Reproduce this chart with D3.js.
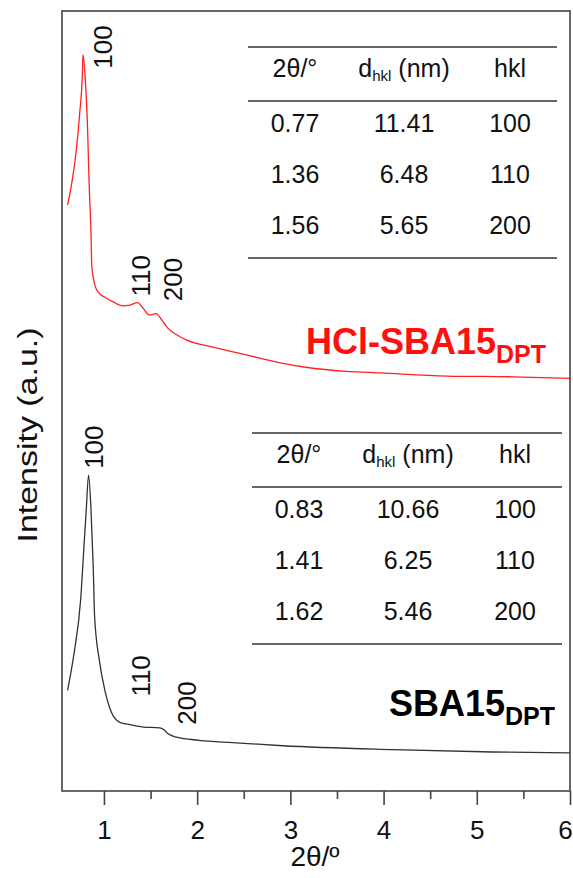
<!DOCTYPE html>
<html>
<head>
<meta charset="utf-8">
<script src="https://cdn.jsdelivr.net/npm/d3@7"></script>
<style>
  body { margin: 0; background: white; }
  text { font-family: "Liberation Sans", Arial, sans-serif; }
</style>
</head>
<body>
<div id="container"></div>
<script>
let w = 573;
let h = 878;

// HCl-SBA15 (red) pattern
let redX = [0.61,0.665,0.70,0.74,0.77,0.775,0.80,0.825,0.84,0.86,0.87,0.91,0.95,1.01,1.10,1.20,1.28,1.36,1.42,1.49,1.56,1.62,1.68,1.78,1.89,2.17,2.53,2.89,3.24,3.60,3.96,4.68,5.39,6.0];
let redY = [751,787,818,869,924,944,912,847,783,719,672,646,638,633,627,622,623,626,619,610,612,604,594,585,578,569,559,549,542,538,536,532,531,529];

// SBA15 (black) pattern
let blackX = [0.61,0.68,0.75,0.79,0.81,0.835,0.86,0.885,0.90,0.95,1.01,1.08,1.17,1.28,1.42,1.60,1.65,1.68,1.78,2.02,2.38,2.92,4.10,5.17,6.0];
let blackY = [129,177,245,322,360,405,364,287,223,168,129,101,88,85,82,81,78,74,69,65,62,58,53,50,49];

let xTicks = [1,2,3,4,5,6];
let xMinor = [1.5,2.5,3.5,4.5,5.5];

// peak labels: [text, x, y] in data units
let redPeaks = [["100",1.09,926],["110",1.49,634],["200",1.84,628]];
let blackPeaks = [["100",0.99,413],["110",1.49,121],["200",1.99,85]];

// tables
let tableHead = ["2θ/°","d","hkl"];
let redRows = [["0.77","11.41","100"],["1.36","6.48","110"],["1.56","5.65","200"]];
let blackRows = [["0.83","10.66","100"],["1.41","6.25","110"],["1.62","5.46","200"]];

let x = d3.scaleLinear().domain([0.55, 6]).range([62, 570]);
let y = d3.scaleLinear().domain([0, 1000]).range([791, 11]);

let viz = d3.select("#container")
  .append("svg")
    .attr("width", w)
    .attr("height", h)
    .style("background-color", "white");

let line = d3.line().x(d => x(d[0])).y(d => y(d[1])).curve(d3.curveMonotoneX);

viz.append("path")
  .datum(d3.zip(redX, redY))
  .attr("d", line)
  .attr("fill", "none")
  .attr("stroke", "#ff2020")
  .attr("stroke-width", 1.3);

viz.append("path")
  .datum(d3.zip(blackX, blackY))
  .attr("d", line)
  .attr("fill", "none")
  .attr("stroke", "#333")
  .attr("stroke-width", 1.3);

// frame
viz.append("rect")
  .attr("x", 62).attr("y", 11)
  .attr("width", 508).attr("height", 780)
  .attr("fill", "none")
  .attr("stroke", "#444")
  .attr("stroke-width", 1.6);

let xAxis = viz.append("g")
  .attr("transform", "translate(0,791)")
  .call(d3.axisBottom(x).tickValues(xTicks).tickSize(14).tickPadding(16).tickFormat(d3.format("d")));
xAxis.select(".domain").remove();
xAxis.selectAll("line").attr("stroke", "#444").attr("stroke-width", 1.6);
xAxis.selectAll("text").attr("font-size", 26).attr("fill", "#111")
  .style("font-family", "'Liberation Sans', Arial, sans-serif")
  .attr("dx", d => d === 6 ? -5 : 0);

let xMinorAxis = viz.append("g")
  .attr("transform", "translate(0,791)")
  .call(d3.axisBottom(x).tickValues(xMinor).tickSize(8).tickFormat(""));
xMinorAxis.select(".domain").remove();
xMinorAxis.selectAll("line").attr("stroke", "#444").attr("stroke-width", 1.6);

viz.append("text")
  .attr("x", 315).attr("y", 866)
  .attr("text-anchor", "middle")
  .attr("font-size", 28)
  .attr("fill", "#111")
  .text("2θ/º");

viz.append("text")
  .attr("transform", "translate(37,435) rotate(-90)")
  .attr("text-anchor", "middle")
  .attr("font-size", 27)
  .attr("textLength", 215)
  .attr("lengthAdjust", "spacingAndGlyphs")
  .attr("fill", "#111")
  .text("Intensity (a.u.)");

// peak labels
function peakLabels(data) {
  viz.selectAll(null)
    .data(data)
    .enter()
    .append("text")
    .attr("transform", d => "translate(" + x(d[1]) + "," + y(d[2]) + ") rotate(-90)")
    .attr("font-size", 26)
    .attr("fill", "#111")
    .text(d => d[0]);
}
peakLabels(redPeaks);
peakLabels(blackPeaks);

// sample names
function sampleName(label, px, py, color) {
  let t = viz.append("text")
    .attr("x", px).attr("y", py)
    .attr("font-size", 36)
    .attr("font-weight", "bold")
    .attr("fill", color);
  t.append("tspan").text(label);
  t.append("tspan").attr("dy", 9).attr("font-size", 25).text("DPT");
}
sampleName("HCl-SBA15", 306, 354, "#ff1010");
sampleName("SBA15", 389, 716, "#000");

// tables
function table(top, left, right, cols, rows) {
  let g = viz.append("g");
  [top, top + 54, top + 211].forEach(ly => {
    g.append("line")
      .attr("x1", left).attr("x2", right)
      .attr("y1", ly).attr("y2", ly)
      .attr("stroke", "#666").attr("stroke-width", 2);
  });
  let head = g.append("g").attr("font-size", 25).attr("fill", "#111");
  head.append("text").attr("x", cols[0]).attr("y", top + 30).attr("text-anchor", "middle").text(tableHead[0]);
  let dh = head.append("text").attr("x", cols[1]).attr("y", top + 30).attr("text-anchor", "middle");
  dh.append("tspan").text(tableHead[1]);
  dh.append("tspan").attr("dy", 4).attr("font-size", 15).text("hkl");
  dh.append("tspan").attr("dy", -4).text(" (nm)");
  head.append("text").attr("x", cols[2]).attr("y", top + 30).attr("text-anchor", "middle").text(tableHead[2]);

  rows.forEach((r, i) => {
    r.forEach((v, j) => {
      g.append("text")
        .attr("x", cols[j]).attr("y", top + 85 + i * 51)
        .attr("text-anchor", "middle")
        .attr("font-size", 25)
        .attr("fill", "#111")
        .text(v);
    });
  });
}
table(47, 248, 557, [295, 404, 510], redRows);
table(433, 252, 562, [299, 408, 515], blackRows);
</script>
</body>
</html>
